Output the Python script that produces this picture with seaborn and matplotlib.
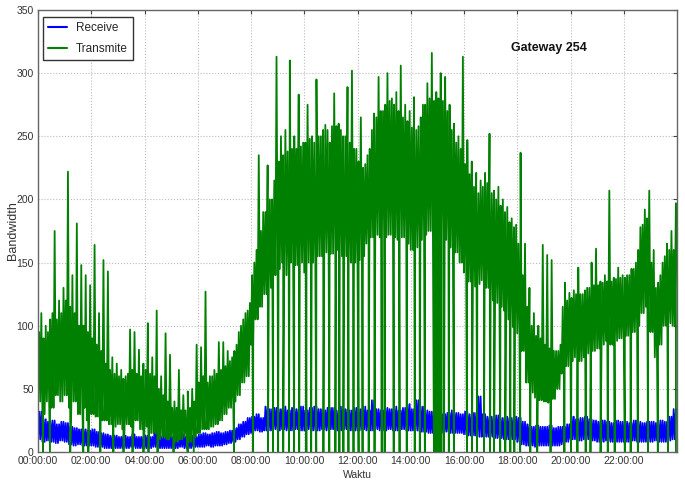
import numpy as np
import pandas as pd
import matplotlib
matplotlib.use("Agg")
import matplotlib.pyplot as plt
import seaborn as sns

# Axis ticks (hours of the day) and their labels
hour_ticks = [0, 2, 4, 6, 8, 10, 12, 14, 16, 18, 20, 22]
tick_labels = ["00:00:00", "02:00:00", "04:00:00", "06:00:00", "08:00:00", "10:00:00",
               "12:00:00", "14:00:00", "16:00:00", "18:00:00", "20:00:00", "22:00:00"]
y_ticks = [0, 50, 100, 150, 200, 250, 300, 350]

# Transmit, per 10-minute slot: highest spike, usual upper edge, lowest sample
transmit_peak = [
    110, 100, 105, 175, 120, 130,
    222, 140, 181, 148, 140, 132,
    164, 110, 152, 143, 75, 70,
    65, 60, 97, 95, 81, 70,
    102, 75, 112, 60, 94, 77,
    40, 65, 45, 48, 50, 85,
    83, 127, 60, 65, 87, 87,
    80, 75, 85, 100, 110, 118,
    150, 235, 190, 227, 200, 313,
    250, 255, 310, 250, 283, 245,
    275, 250, 295, 250, 259, 245,
    284, 260, 250, 289, 302, 240,
    265, 228, 240, 268, 297, 270,
    300, 280, 285, 306, 275, 270,
    281, 258, 275, 292, 316, 285,
    300, 297, 275, 260, 250, 313,
    247, 230, 221, 215, 221, 252,
    207, 210, 200, 194, 185, 180,
    237, 165, 130, 110, 100, 164,
    156, 152, 80, 85, 134, 126,
    128, 146, 125, 130, 150, 161,
    135, 140, 207, 138, 146, 140,
    140, 145, 150, 178, 192, 207,
    160, 134, 150, 165, 175, 197,
]
transmit_top = [
    95, 90, 95, 110, 105, 110,
    120, 115, 110, 100, 100, 95,
    90, 85, 80, 70, 65, 62,
    60, 58, 62, 65, 62, 60,
    65, 62, 60, 50, 45, 40,
    35, 35, 33, 33, 35, 40,
    55, 60, 55, 60, 62, 65,
    68, 72, 80, 95, 105, 112,
    140, 160, 175, 190, 200, 215,
    230, 235, 238, 240, 240, 242,
    245, 248, 245, 250, 255, 255,
    258, 258, 255, 250, 245, 240,
    230, 225, 235, 255, 265, 270,
    275, 278, 275, 270, 265, 262,
    257, 255, 265, 275, 280, 278,
    280, 278, 270, 255, 245, 240,
    228, 220, 210, 205, 210, 213,
    205, 200, 195, 190, 182, 178,
    165, 140, 115, 100, 92, 90,
    85, 82, 80, 80, 115, 120,
    122, 125, 125, 128, 130, 132,
    132, 134, 135, 135, 137, 138,
    138, 140, 145, 160, 180, 185,
    150, 130, 140, 155, 160, 160,
]
transmit_floor = [
    40, 30, 40, 35, 45, 40,
    45, 35, 40, 30, 35, 25,
    30, 28, 25, 25, 22, 20,
    22, 18, 22, 20, 25, 18,
    20, 15, 15, 10, 12, 10,
    12, 8, 10, 12, 8, 12,
    15, 18, 18, 20, 22, 25,
    30, 35, 40, 45, 55, 60,
    85, 105, 115, 125, 130, 140,
    145, 150, 140, 150, 148, 150,
    142, 150, 150, 155, 155, 158,
    157, 160, 155, 155, 150, 150,
    152, 155, 165, 170, 172, 170,
    170, 172, 170, 168, 170, 165,
    160, 162, 168, 172, 175, 170,
    172, 170, 168, 162, 158, 150,
    142, 135, 131, 133, 136, 130,
    120, 118, 115, 112, 105, 99,
    94, 80, 55, 47, 43, 41,
    40, 39, 42, 50, 62, 68,
    72, 75, 72, 75, 78, 80,
    82, 85, 88, 85, 88, 90,
    92, 92, 95, 100, 110, 115,
    95, 75, 85, 100, 102, 100,
]
# Moments (hours) where the transmit rate fell to zero
transmit_drop_hours = [
    0.19, 0.45, 1.21, 1.70, 1.89, 2.34, 2.83, 3.21, 3.55, 3.96, 4.15, 4.49,
    5.09, 5.62, 5.85, 7.36, 8.08, 8.64, 8.83, 9.02, 9.21, 9.43, 9.62, 9.81,
    10.08, 10.26, 10.45, 10.72, 10.94, 11.17, 11.32, 11.47, 11.66, 11.85,
    12.04, 12.19, 12.42, 12.64, 12.91, 13.02, 13.36, 13.58, 13.85, 14.15,
    14.34, 14.53, 14.87, 14.94, 15.02, 15.09, 15.15, 15.25, 15.43, 15.62,
    16.11, 16.30, 16.49, 16.75, 16.98, 17.13, 17.36, 17.55, 17.74, 17.89,
    18.11, 18.49, 18.75, 19.25, 19.77, 20.02, 20.26, 20.57, 20.75, 21.13,
    21.40, 21.66, 22.04, 22.26, 22.53, 22.91, 23.28, 23.66, 23.96,
]

# Receive, per 10-minute slot: highest and lowest sample
receive_peak = [
    32, 26, 24, 25, 22, 24,
    23, 20, 19, 18, 18, 17,
    18, 16, 15, 14, 13, 13,
    12, 13, 12, 14, 12, 12,
    13, 12, 16, 12, 12, 13,
    12, 12, 14, 12, 13, 12,
    14, 15, 14, 15, 16, 15,
    16, 17, 19, 22, 24, 27,
    28, 30, 27, 36, 34, 35,
    34, 36, 33, 35, 34, 36,
    33, 35, 36, 34, 33, 35,
    35, 33, 36, 34, 33, 35,
    34, 36, 33, 41, 34, 33,
    35, 34, 36, 33, 35, 38,
    34, 41, 36, 33, 32, 31,
    32, 30, 31, 33, 31, 30,
    32, 30, 31, 44, 30, 28,
    28, 29, 27, 28, 27, 28,
    27, 24, 22, 20, 21, 20,
    20, 21, 19, 20, 20, 22,
    28, 26, 27, 28, 26, 25,
    24, 25, 24, 23, 25, 24,
    24, 23, 25, 24, 23, 24,
    24, 23, 25, 24, 28, 34,
]
receive_floor = [
    10, 8, 9, 8, 7, 9,
    8, 6, 5, 6, 5, 5,
    5, 4, 4, 3, 3, 3,
    3, 3, 3, 4, 3, 3,
    3, 3, 4, 3, 3, 3,
    3, 3, 4, 3, 3, 4,
    4, 4, 5, 4, 5, 5,
    6, 7, 8, 10, 12, 14,
    15, 17, 16, 17, 17, 18,
    17, 18, 17, 17, 18, 17,
    17, 18, 17, 17, 18, 17,
    18, 17, 17, 18, 17, 17,
    17, 18, 17, 17, 18, 17,
    17, 18, 17, 17, 18, 17,
    17, 17, 16, 16, 15, 15,
    15, 15, 16, 15, 15, 15,
    14, 13, 13, 12, 12, 12,
    12, 11, 11, 10, 10, 10,
    8, 6, 5, 5, 4, 5,
    5, 5, 5, 5, 6, 8,
    10, 10, 9, 10, 10, 9,
    8, 8, 9, 8, 8, 8,
    8, 8, 9, 8, 8, 8,
    8, 9, 8, 8, 9, 10,
]

slot_hours = np.arange(len(transmit_peak)) / 6.0


def trace(peak, top, floor, drops=()):
    """Samples within each slot swing low -> upper edge -> low -> spike;
    zero drops are slotted in at their own times."""
    t, v = [], []
    for h, hi, mid, lo in zip(slot_hours, peak, top, floor):
        t += [h, h + 1 / 24, h + 2 / 24, h + 3 / 24]
        v += [lo, mid, lo, hi]
    t += list(drops)
    v += [0] * len(drops)
    t = np.asarray(t)
    v = np.asarray(v, dtype=float)
    order = np.argsort(t, kind="stable")
    return pd.DataFrame({"Waktu": t[order], "Bandwidth": v[order]})


receive_df = trace(receive_peak, receive_peak, receive_floor)
transmit_df = trace(transmit_peak, transmit_top, transmit_floor, transmit_drop_hours)

sns.set_style("white")
plt.rcParams["font.family"] = ["Liberation Sans", "DejaVu Sans"]
plt.rcParams["xtick.direction"] = "in"
plt.rcParams["ytick.direction"] = "in"

fig = plt.figure(figsize=(6.85, 4.82), dpi=100)
ax = fig.add_axes([38 / 685, 30 / 482, 639 / 685, 442 / 482])

sns.lineplot(data=receive_df, x="Waktu", y="Bandwidth", estimator=None, sort=False,
             color=(0, 0, 1), lw=1.25, ax=ax, label="Receive")
sns.lineplot(data=transmit_df, x="Waktu", y="Bandwidth", estimator=None, sort=False,
             color=(0, 0.5, 0), lw=1.3, ax=ax, label="Transmite")

ax.set_xlim(0, 24)
ax.set_ylim(0, 350)
ax.set_xticks(hour_ticks)
ax.set_xticklabels(tick_labels, fontsize=7.5)
ax.set_yticks(y_ticks)
ax.set_yticklabels([str(v) for v in y_ticks], fontsize=7.5)
ax.tick_params(axis="both", length=3, width=0.8, color="#444444", pad=3,
               labelcolor="#333333", top=True, right=True)
ax.grid(True, color="#bbbbbb", linestyle=":", linewidth=0.8)
for s in ax.spines.values():
    s.set_color("#666666")
    s.set_linewidth(1.0)

ax.set_xlabel("Waktu", fontsize=7.5, color="#333333", labelpad=3)
ax.set_ylabel("Bandwidth", fontsize=9, color="#333333", labelpad=-1.5)

ax.text(0.80, 0.915, "Gateway 254", transform=ax.transAxes, ha="center", va="center",
        fontsize=9, fontweight="bold", color="#111111")

leg = ax.legend(loc="upper left", bbox_to_anchor=(0.008, 0.984), borderaxespad=0,
                fontsize=8.5, handlelength=1.6, labelspacing=0.8, fancybox=False,
                framealpha=1)
leg.get_frame().set_edgecolor("#333333")
leg.get_frame().set_linewidth(1.0)
for line in leg.get_lines():
    line.set_linewidth(1.5)

fig.savefig("out.png", dpi=100)
